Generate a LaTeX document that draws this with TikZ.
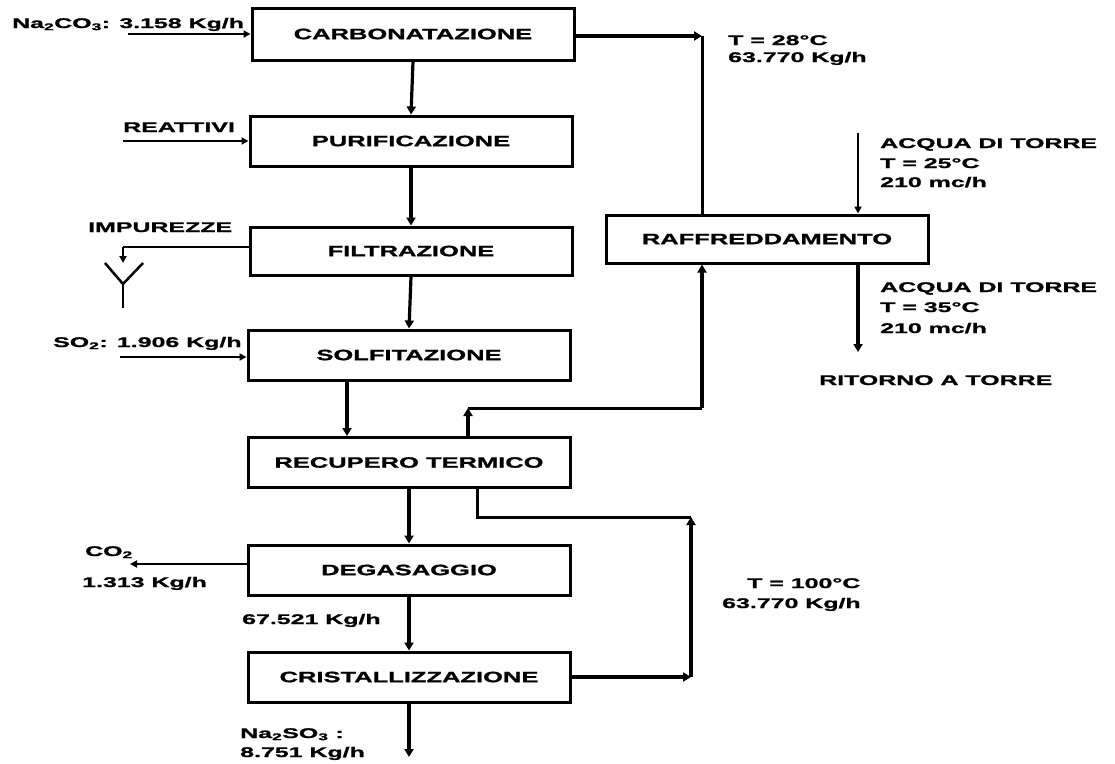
\documentclass[tikz,border=0pt]{standalone}
\usepackage{fontspec}
\setmainfont{Liberation Sans}
\newfontfamily\boxfont{Liberation Sans}[FakeStretch=1.7, BoldFeatures={FakeBold=1.2}]
\newfontfamily\lblfont{Liberation Sans}[FakeStretch=1.78, BoldFeatures={FakeBold=1.2}]
\usetikzlibrary{arrows.meta}
\tikzset{
  procbox/.style={draw, line width=3pt, minimum width=322pt, minimum height=50pt, inner sep=0pt,
    font=\boxfont\bfseries\fontsize{15}{15}\selectfont},
  lbl/.style={anchor=base west, inner sep=0pt, font=\lblfont\bfseries\fontsize{14}{16}\selectfont},
  arr/.style={line width=3.2pt, -{Triangle[length=8pt,width=9pt]}},
  thinarr/.style={line width=2pt, -{Triangle[length=7pt,width=7pt]}},
  flow/.style={line width=3pt},
  thinflow/.style={line width=2pt},
}
\begin{document}
\begin{tikzpicture}[x=1pt,y=-1pt]
\fill[white] (0,0) rectangle (1115,763);
\useasboundingbox (0,0) rectangle (1115,763);

% process boxes
\node[procbox, minimum height=52pt] (carb) at (413,34) {CARBONATAZIONE};
\node[procbox] (pur) at (411,141) {PURIFICAZIONE};
\node[procbox, minimum height=48pt] (filt) at (411,251) {FILTRAZIONE};
\node[procbox] (solf) at (409,355) {SOLFITAZIONE};
\node[procbox] (recup) at (409,462.5) {RECUPERO TERMICO};
\node[procbox] (deg) at (409,570) {DEGASAGGIO};
\node[procbox] (crist) at (409,677) {CRISTALLIZZAZIONE};
\node[procbox, minimum height=48pt] (raff) at (767,239) {RAFFREDDAMENTO};

% main line
\draw[arr] (carb.south) -- (pur.north);
\draw[arr] (pur.south) -- (filt.north);
\draw[arr] (filt.south) -- (solf.north);
\draw[arr] ([xshift=-62pt]solf.south) -- ([xshift=-62pt]recup.north);
\draw[arr] (recup.south) -- (deg.north);
\draw[arr] (deg.south) -- (crist.north);
\coordinate (naout) at (409,757);
\draw[arr] (crist.south) -- (naout);

% feeds
\coordinate (na2co3in) at (128,34);
\draw[thinarr] (na2co3in) -- (carb.west);
\coordinate (reatin) at (123,141);
\draw[thinarr] (reatin) -- (pur.west);
\coordinate (so2in) at (120,357);
\draw[thinarr] (so2in) -- ([yshift=-2pt]solf.west);

% impurities to drain
\coordinate (imp1) at (123,247);
\coordinate (imp2) at (123,263);
\draw[thinflow] ([yshift=4pt]filt.west) -- (imp1);
\draw[thinarr] (imp1) -- (imp2);
\coordinate (yl) at (105,263);
\coordinate (yc) at (123,284);
\coordinate (yr) at (143,263);
\coordinate (yb) at (123,308);
\draw[line width=2.5pt] (yl) -- (yc) -- (yr);
\draw[line width=2.5pt] (yc) -- (yb);

% CO2 off-gas
\coordinate (co2out) at (130,564);
\draw[thinarr] ([yshift=6pt]deg.west) -- (co2out);

% cooling loop: RECUPERO -> RAFFREDDAMENTO -> CARBONATAZIONE
\coordinate (r1) at (468,408);
\coordinate (r2) at (702,408);
\coordinate (r3) at (702,36);
\draw[arr] (recup.north -| r1) -- (r1);
\draw[flow] (r1) -- (r2);
\draw[arr] (r2) -- (raff.south -| r2);
\draw[flow] (raff.north -| r3) -- (r3);
\draw[arr] ([yshift=-2pt]carb.east) -- (r3);

% cooling water
\coordinate (w1) at (858,133);
\coordinate (w2) at (858,352);
\draw[thinarr] (w1) -- (raff.north -| w1);
\draw[arr] (raff.south -| w2) -- (w2);

% crystallizer loop back to RECUPERO
\coordinate (d1) at (691,677);
\coordinate (d2) at (691,517);
\coordinate (d3) at (477,517);
\draw[arr] (crist.east) -- (d1);
\draw[arr] (d1) -- (d2);
\draw[flow] (d2) -- (d3) -- (recup.south -| d3);

% labels
\node[lbl] (lna) at (12,28) {Na\textsubscript{2}CO\textsubscript{3}: 3.158 Kg/h};
\node[lbl] (lreat) at (123,132) {REATTIVI};
\node[lbl] (limp) at (88,232) {IMPUREZZE};
\node[lbl] (lso2) at (53,347) {SO\textsubscript{2}: 1.906 Kg/h};
\node[lbl] (lco2) at (85,556) {CO\textsubscript{2}};
\node[lbl] (lco2b) at (82,587) {1.313 Kg/h};
\node[lbl] (l675) at (242,624) {67.521 Kg/h};
\node[lbl] (lna2so3) at (240,738) {Na\textsubscript{2}SO\textsubscript{3} :};
\node[lbl] (lna2so3b) at (240,757) {8.751 Kg/h};
\node[lbl] (lt28) at (728,45) {T = 28°C};
\node[lbl] (lt28b) at (728,62) {63.770 Kg/h};
\node[lbl] (lacq1) at (880,148) {ACQUA DI TORRE};
\node[lbl] (lacq1b) at (880,168) {T = 25°C};
\node[lbl] (lacq1c) at (880,187) {210 mc/h};
\node[lbl] (lacq2) at (880,292) {ACQUA DI TORRE};
\node[lbl] (lacq2b) at (880,312) {T = 35°C};
\node[lbl] (lacq2c) at (880,333) {210 mc/h};
\node[lbl] (lrit) at (819,385) {RITORNO A TORRE};
\node[lbl] (lt100) at (747,588) {T = 100°C};
\node[lbl] (lt100b) at (722,608) {63.770 Kg/h};
\end{tikzpicture}
\end{document}
